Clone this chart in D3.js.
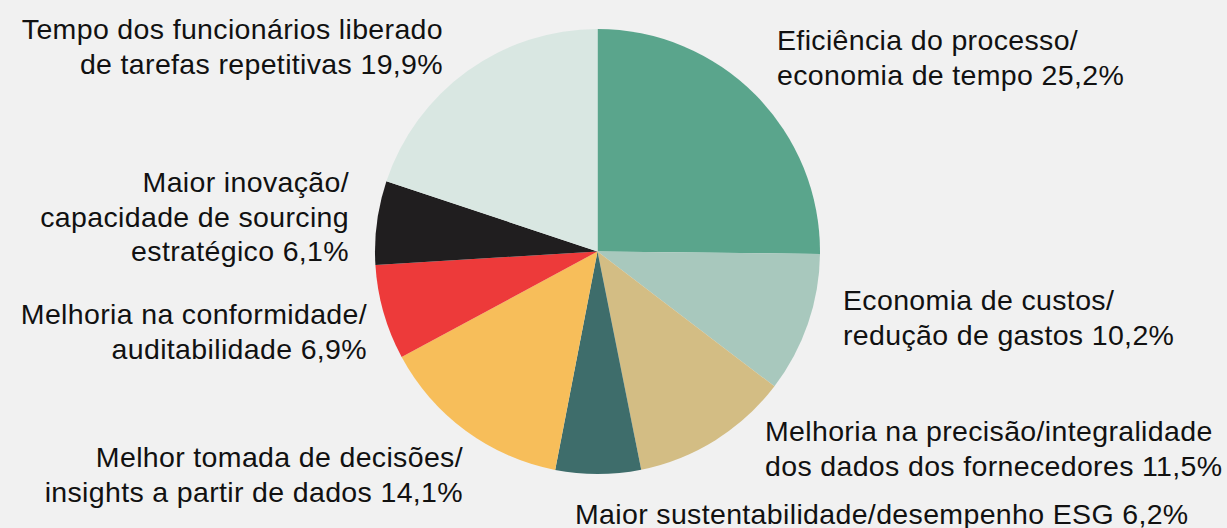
<!DOCTYPE html>
<html>
<head>
<meta charset="utf-8">
<script src="https://cdn.jsdelivr.net/npm/d3@7"></script>
<style>
  html, body { margin: 0; padding: 0; background: #f1f1f1; }
  svg { display: block; }
  text { font-family: "Liberation Sans", Arial, Helvetica, sans-serif; fill: #111; }
</style>
</head>
<body>
<svg id="chart" width="1227" height="528"></svg>
<script>
// ---- data ----
const categories = [
  "Eficiência do processo/|economia de tempo",
  "Economia de custos/|redução de gastos",
  "Melhoria na precisão/integralidade|dos dados dos fornecedores",
  "Maior sustentabilidade/desempenho ESG",
  "Melhor tomada de decisões/|insights a partir de dados",
  "Melhoria na conformidade/|auditabilidade",
  "Maior inovação/|capacidade de sourcing|estratégico",
  "Tempo dos funcionários liberado|de tarefas repetitivas"
];
const values = [25.2, 10.2, 11.5, 6.2, 14.1, 6.9, 6.1, 19.9];
const colors = ["#5aa58c", "#a8c8bd", "#d3bd84", "#3e6d6b", "#f7be5a", "#ed3a3a", "#201e1f", "#d9e7e2"];

// ---- layout (label anchors: x, first baseline, text-anchor) ----
const labelLayout = [
  {x: 777, y: 50, anchor: "start"},
  {x: 843, y: 310, anchor: "start"},
  {x: 765, y: 441, anchor: "start"},
  {x: 575, y: 524, anchor: "start"},
  {x: 463, y: 467, anchor: "end"},
  {x: 367, y: 324, anchor: "end"},
  {x: 349, y: 192, anchor: "end"},
  {x: 443, y: 39, anchor: "end"}
];
const cx = 597.5, cy = 251.5, radius = 222.5, fontSize = 28.5, lineH = 34.5;

const fmt = v => d3.format(".1f")(v).replace(".", ",") + "%";

const svg = d3.select("#chart");
const pie = d3.pie().sort(null).value(d => d.value);
const arc = d3.arc().innerRadius(0).outerRadius(radius);
const data = categories.map((c, i) => ({cat: c, value: values[i], color: colors[i], lay: labelLayout[i]}));

svg.append("g").attr("transform", `translate(${cx},${cy})`)
  .selectAll("path").data(pie(data)).join("path")
  .attr("d", arc)
  .attr("fill", d => d.data.color);

const labels = svg.append("g").selectAll("text").data(data).join("text")
  .attr("font-size", fontSize)
  .attr("letter-spacing", 0.35)
  .attr("text-anchor", d => d.lay.anchor);

labels.each(function(d) {
  const lines = d.cat.split("|");
  lines[lines.length - 1] += " " + fmt(d.value);
  d3.select(this).selectAll("tspan").data(lines).join("tspan")
    .attr("x", d.lay.x)
    .attr("y", (l, i) => d.lay.y + i * lineH)
    .text(l => l);
});
</script>
</body>
</html>
